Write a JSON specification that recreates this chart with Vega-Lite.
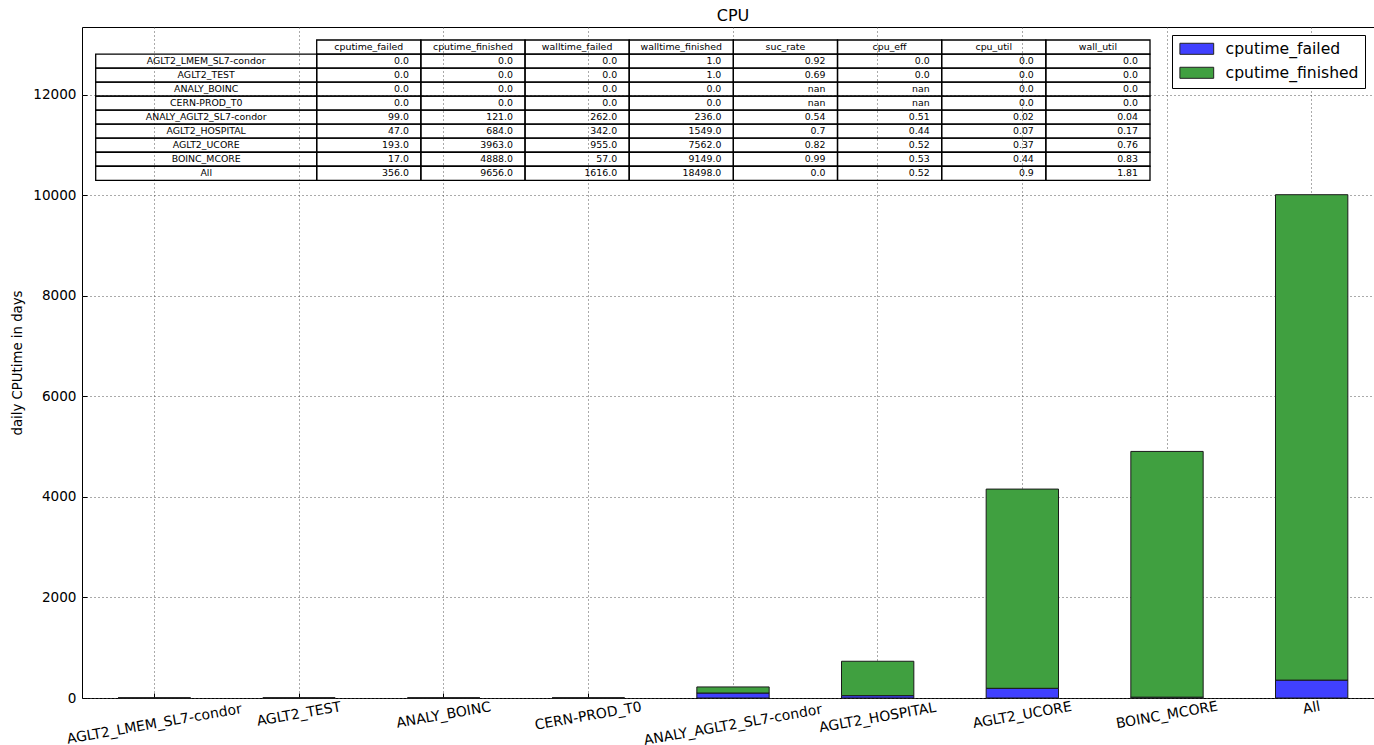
{
  "$schema": "https://vega.github.io/schema/vega-lite/v6.json",
  "width": 1302,
  "height": 671,
  "autosize": {"type": "none"},
  "padding": {"left": 82, "top": 27, "right": -10, "bottom": 47},
  "background": "white",
  "config": {
    "font": "DejaVu Sans",
    "view": {"stroke": "black", "strokeWidth": 1}
  },
  "title": {"text": "CPU", "fontSize": 16, "fontWeight": "normal", "font": "DejaVu Sans", "color": "black", "offset": 3, "anchor": "middle"},
  "datasets": {
    "bars": [
      {"site": "AGLT2_LMEM_SL7-condor", "series": "cputime_failed", "value": 0},
      {"site": "AGLT2_LMEM_SL7-condor", "series": "cputime_finished", "value": 0},
      {"site": "AGLT2_TEST", "series": "cputime_failed", "value": 0},
      {"site": "AGLT2_TEST", "series": "cputime_finished", "value": 0},
      {"site": "ANALY_BOINC", "series": "cputime_failed", "value": 0},
      {"site": "ANALY_BOINC", "series": "cputime_finished", "value": 0},
      {"site": "CERN-PROD_T0", "series": "cputime_failed", "value": 0},
      {"site": "CERN-PROD_T0", "series": "cputime_finished", "value": 0},
      {"site": "ANALY_AGLT2_SL7-condor", "series": "cputime_failed", "value": 99},
      {"site": "ANALY_AGLT2_SL7-condor", "series": "cputime_finished", "value": 121},
      {"site": "AGLT2_HOSPITAL", "series": "cputime_failed", "value": 47},
      {"site": "AGLT2_HOSPITAL", "series": "cputime_finished", "value": 684},
      {"site": "AGLT2_UCORE", "series": "cputime_failed", "value": 193},
      {"site": "AGLT2_UCORE", "series": "cputime_finished", "value": 3963},
      {"site": "BOINC_MCORE", "series": "cputime_failed", "value": 17},
      {"site": "BOINC_MCORE", "series": "cputime_finished", "value": 4888},
      {"site": "All", "series": "cputime_failed", "value": 356},
      {"site": "All", "series": "cputime_finished", "value": 9656}
    ],
    "table": [
      {"site": "AGLT2_LMEM_SL7-condor", "cputime_failed": "0.0", "cputime_finished": "0.0", "walltime_failed": "0.0", "walltime_finished": "1.0", "suc_rate": "0.92", "cpu_eff": "0.0", "cpu_util": "0.0", "wall_util": "0.0"},
      {"site": "AGLT2_TEST", "cputime_failed": "0.0", "cputime_finished": "0.0", "walltime_failed": "0.0", "walltime_finished": "1.0", "suc_rate": "0.69", "cpu_eff": "0.0", "cpu_util": "0.0", "wall_util": "0.0"},
      {"site": "ANALY_BOINC", "cputime_failed": "0.0", "cputime_finished": "0.0", "walltime_failed": "0.0", "walltime_finished": "0.0", "suc_rate": "nan", "cpu_eff": "nan", "cpu_util": "0.0", "wall_util": "0.0"},
      {"site": "CERN-PROD_T0", "cputime_failed": "0.0", "cputime_finished": "0.0", "walltime_failed": "0.0", "walltime_finished": "0.0", "suc_rate": "nan", "cpu_eff": "nan", "cpu_util": "0.0", "wall_util": "0.0"},
      {"site": "ANALY_AGLT2_SL7-condor", "cputime_failed": "99.0", "cputime_finished": "121.0", "walltime_failed": "262.0", "walltime_finished": "236.0", "suc_rate": "0.54", "cpu_eff": "0.51", "cpu_util": "0.02", "wall_util": "0.04"},
      {"site": "AGLT2_HOSPITAL", "cputime_failed": "47.0", "cputime_finished": "684.0", "walltime_failed": "342.0", "walltime_finished": "1549.0", "suc_rate": "0.7", "cpu_eff": "0.44", "cpu_util": "0.07", "wall_util": "0.17"},
      {"site": "AGLT2_UCORE", "cputime_failed": "193.0", "cputime_finished": "3963.0", "walltime_failed": "955.0", "walltime_finished": "7562.0", "suc_rate": "0.82", "cpu_eff": "0.52", "cpu_util": "0.37", "wall_util": "0.76"},
      {"site": "BOINC_MCORE", "cputime_failed": "17.0", "cputime_finished": "4888.0", "walltime_failed": "57.0", "walltime_finished": "9149.0", "suc_rate": "0.99", "cpu_eff": "0.53", "cpu_util": "0.44", "wall_util": "0.83"},
      {"site": "All", "cputime_failed": "356.0", "cputime_finished": "9656.0", "walltime_failed": "1616.0", "walltime_finished": "18498.0", "suc_rate": "0.0", "cpu_eff": "0.52", "cpu_util": "0.9", "wall_util": "1.81"}
    ]
  },
  "layer": [
    {
      "layer": [
        {
          "data": {"name": "bars"},
          "mark": {"type": "bar", "stroke": "#1a1a1a", "strokeWidth": 1},
          "encoding": {
            "x": {
              "field": "site", "type": "nominal",
              "sort": ["AGLT2_LMEM_SL7-condor", "AGLT2_TEST", "ANALY_BOINC", "CERN-PROD_T0", "ANALY_AGLT2_SL7-condor", "AGLT2_HOSPITAL", "AGLT2_UCORE", "BOINC_MCORE", "All"],
              "scale": {"paddingInner": 0.5, "paddingOuter": 0.25},
              "axis": {
                "title": null, "domain": false, "labels": false,
                "ticks": true, "tickSize": -5, "tickColor": "black", "tickWidth": 1,
                "grid": true, "gridColor": "#555", "gridDash": [1, 3], "gridWidth": 1, "bandPosition": 0.5
              }
            },
            "y": {
              "field": "value", "type": "quantitative", "stack": "zero",
              "scale": {"domain": [0, 13348], "nice": false, "zero": true},
              "axis": {
                "title": "daily CPUtime in days", "titleFontSize": 13.3, "titleFontWeight": "normal", "titleColor": "black", "titlePadding": 8,
                "values": [0, 2000, 4000, 6000, 8000, 10000, 12000], "format": "d",
                "domain": false, "ticks": true, "tickSize": -5, "tickColor": "black", "tickWidth": 1, "labelPadding": 11,
                "labelFontSize": 13.6, "labelColor": "black",
                "grid": true, "gridColor": "#555", "gridDash": [1, 3], "gridWidth": 1
              }
            },
            "color": {
              "field": "series", "type": "nominal",
              "scale": {"domain": ["cputime_failed", "cputime_finished"], "range": ["#4040ff", "#40a040"]},
              "legend": {
                "title": null, "orient": "none", "legendX": 1090, "legendY": 8,
                "labelFontSize": 15.6, "labelColor": "black", "labelLimit": 400,
                "symbolType": "M-2.6,-0.85H2.6V0.85H-2.6Z", "symbolSize": 169,
                "symbolStrokeColor": "#222", "symbolStrokeWidth": 1, "symbolOpacity": 1,
                "fillColor": "white", "strokeColor": "black", "padding": 6, "rowPadding": 7,
                "symbolOffset": 11, "labelOffset": 21
              }
            },
            "order": {"field": "series", "sort": "ascending"}
          }
        },
        {
          "data": {"name": "table"},
          "mark": {
            "type": "text", "fontSize": 14, "color": "black", "align": "center", "baseline": "middle", "angle": 350,
            "dy": {"expr": "7.4 + 0.886*length(datum.site)"},
            "dx": {"expr": "-1.3 - 0.156*length(datum.site)"}
          },
          "encoding": {
            "text": {"field": "site"},
            "angle": {"value": 350},
            "x": {
              "field": "site", "type": "nominal", "bandPosition": 0.5,
              "sort": ["AGLT2_LMEM_SL7-condor", "AGLT2_TEST", "ANALY_BOINC", "CERN-PROD_T0", "ANALY_AGLT2_SL7-condor", "AGLT2_HOSPITAL", "AGLT2_UCORE", "BOINC_MCORE", "All"]
            },
            "y": {"datum": 0, "type": "quantitative"}
          }
        }
      ]
    },
    {
      "data": {"name": "table"},
      "mark": {"type": "rect", "fill": null, "fillOpacity": 0, "stroke": "black", "strokeWidth": 1.3},
      "encoding": {
        "x": {"datum": "label", "type": "nominal", "scale": {"type": "band", "domain": ["label"], "range": [13.7, 234.7], "paddingInner": 0, "paddingOuter": 0}, "axis": null},
        "y": {"field": "site", "type": "nominal", "scale": {"type": "band", "domain": ["(header)", "AGLT2_LMEM_SL7-condor", "AGLT2_TEST", "ANALY_BOINC", "CERN-PROD_T0", "ANALY_AGLT2_SL7-condor", "AGLT2_HOSPITAL", "AGLT2_UCORE", "BOINC_MCORE", "All"], "range": [13, 153.3], "paddingInner": 0, "paddingOuter": 0}, "axis": null}
      }
    },
    {
      "data": {"name": "table"},
      "mark": {"type": "text", "fontSize": 9.4, "color": "black", "align": "center", "baseline": "middle"},
      "encoding": {
        "text": {"field": "site"},
        "x": {"datum": "label", "type": "nominal", "bandPosition": 0.5, "scale": {"type": "band", "domain": ["label"], "range": [13.7, 234.7], "paddingInner": 0, "paddingOuter": 0}, "axis": null},
        "y": {"field": "site", "type": "nominal", "bandPosition": 0.5, "scale": {"type": "band", "domain": ["(header)", "AGLT2_LMEM_SL7-condor", "AGLT2_TEST", "ANALY_BOINC", "CERN-PROD_T0", "ANALY_AGLT2_SL7-condor", "AGLT2_HOSPITAL", "AGLT2_UCORE", "BOINC_MCORE", "All"], "range": [13, 153.3], "paddingInner": 0, "paddingOuter": 0}, "axis": null}
      }
    },
    {
      "data": {"name": "table"},
      "transform": [
        {"fold": ["cputime_failed", "cputime_finished", "walltime_failed", "walltime_finished", "suc_rate", "cpu_eff", "cpu_util", "wall_util"], "as": ["column", "cell"]},
        {"aggregate": [{"op": "count", "as": "n"}], "groupby": ["column"]}
      ],
      "mark": {"type": "rect", "fill": null, "fillOpacity": 0, "stroke": "black", "strokeWidth": 1.3},
      "encoding": {
        "x": {"field": "column", "type": "nominal", "scale": {"type": "band", "domain": ["cputime_failed", "cputime_finished", "walltime_failed", "walltime_finished", "suc_rate", "cpu_eff", "cpu_util", "wall_util"], "range": [234.7, 1068], "paddingInner": 0, "paddingOuter": 0}, "axis": null},
        "y": {"datum": "(header)", "type": "nominal", "scale": {"type": "band", "domain": ["(header)", "AGLT2_LMEM_SL7-condor", "AGLT2_TEST", "ANALY_BOINC", "CERN-PROD_T0", "ANALY_AGLT2_SL7-condor", "AGLT2_HOSPITAL", "AGLT2_UCORE", "BOINC_MCORE", "All"], "range": [13, 153.3], "paddingInner": 0, "paddingOuter": 0}, "axis": null}
      }
    },
    {
      "data": {"name": "table"},
      "transform": [
        {"fold": ["cputime_failed", "cputime_finished", "walltime_failed", "walltime_finished", "suc_rate", "cpu_eff", "cpu_util", "wall_util"], "as": ["column", "cell"]},
        {"aggregate": [{"op": "count", "as": "n"}], "groupby": ["column"]}
      ],
      "mark": {"type": "text", "fontSize": 9.4, "color": "black", "align": "center", "baseline": "middle"},
      "encoding": {
        "text": {"field": "column"},
        "x": {"field": "column", "type": "nominal", "bandPosition": 0.5, "scale": {"type": "band", "domain": ["cputime_failed", "cputime_finished", "walltime_failed", "walltime_finished", "suc_rate", "cpu_eff", "cpu_util", "wall_util"], "range": [234.7, 1068], "paddingInner": 0, "paddingOuter": 0}, "axis": null},
        "y": {"datum": "(header)", "type": "nominal", "bandPosition": 0.5, "scale": {"type": "band", "domain": ["(header)", "AGLT2_LMEM_SL7-condor", "AGLT2_TEST", "ANALY_BOINC", "CERN-PROD_T0", "ANALY_AGLT2_SL7-condor", "AGLT2_HOSPITAL", "AGLT2_UCORE", "BOINC_MCORE", "All"], "range": [13, 153.3], "paddingInner": 0, "paddingOuter": 0}, "axis": null}
      }
    },
    {
      "data": {"name": "table"},
      "transform": [
        {"fold": ["cputime_failed", "cputime_finished", "walltime_failed", "walltime_finished", "suc_rate", "cpu_eff", "cpu_util", "wall_util"], "as": ["column", "cell"]}
      ],
      "mark": {"type": "rect", "fill": null, "fillOpacity": 0, "stroke": "black", "strokeWidth": 1.3},
      "encoding": {
        "x": {"field": "column", "type": "nominal", "scale": {"type": "band", "domain": ["cputime_failed", "cputime_finished", "walltime_failed", "walltime_finished", "suc_rate", "cpu_eff", "cpu_util", "wall_util"], "range": [234.7, 1068], "paddingInner": 0, "paddingOuter": 0}, "axis": null},
        "y": {"field": "site", "type": "nominal", "scale": {"type": "band", "domain": ["(header)", "AGLT2_LMEM_SL7-condor", "AGLT2_TEST", "ANALY_BOINC", "CERN-PROD_T0", "ANALY_AGLT2_SL7-condor", "AGLT2_HOSPITAL", "AGLT2_UCORE", "BOINC_MCORE", "All"], "range": [13, 153.3], "paddingInner": 0, "paddingOuter": 0}, "axis": null}
      }
    },
    {
      "data": {"name": "table"},
      "transform": [
        {"fold": ["cputime_failed", "cputime_finished", "walltime_failed", "walltime_finished", "suc_rate", "cpu_eff", "cpu_util", "wall_util"], "as": ["column", "cell"]}
      ],
      "mark": {"type": "text", "fontSize": 9.4, "color": "black", "align": "right", "baseline": "middle", "dx": -12},
      "encoding": {
        "text": {"field": "cell"},
        "x": {"field": "column", "type": "nominal", "bandPosition": 1, "scale": {"type": "band", "domain": ["cputime_failed", "cputime_finished", "walltime_failed", "walltime_finished", "suc_rate", "cpu_eff", "cpu_util", "wall_util"], "range": [234.7, 1068], "paddingInner": 0, "paddingOuter": 0}, "axis": null},
        "y": {"field": "site", "type": "nominal", "bandPosition": 0.5, "scale": {"type": "band", "domain": ["(header)", "AGLT2_LMEM_SL7-condor", "AGLT2_TEST", "ANALY_BOINC", "CERN-PROD_T0", "ANALY_AGLT2_SL7-condor", "AGLT2_HOSPITAL", "AGLT2_UCORE", "BOINC_MCORE", "All"], "range": [13, 153.3], "paddingInner": 0, "paddingOuter": 0}, "axis": null}
      }
    }
  ],
  "resolve": {"scale": {"x": "independent", "y": "independent"}, "axis": {"x": "independent", "y": "independent"}}
}
